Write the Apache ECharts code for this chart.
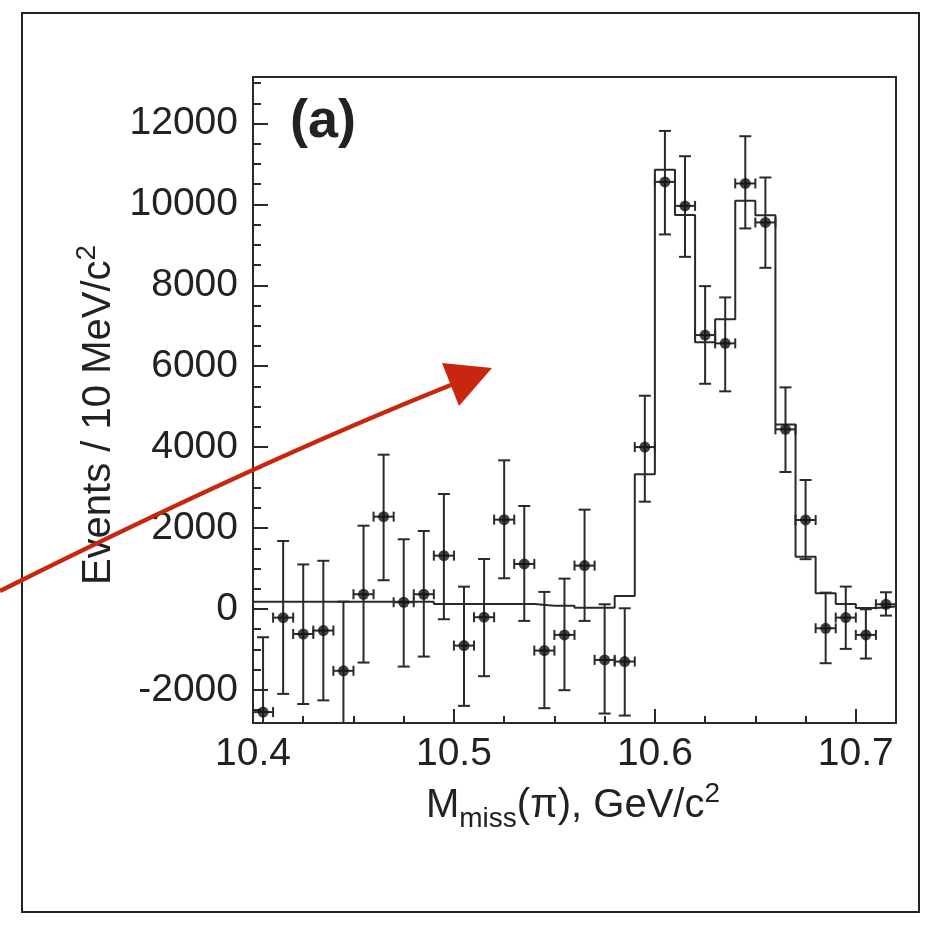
<!DOCTYPE html>
<html><head><meta charset="utf-8">
<script src="https://cdn.jsdelivr.net/npm/echarts@6/dist/echarts.min.js"></script>
<style>html,body{margin:0;padding:0;background:#fff;} #chart{width:940px;height:925px;}</style>
</head><body><div id="chart"></div>
<script>
// ---- data ----
const binCenters = [10.405,10.415,10.425,10.435,10.445,10.455,10.465,10.475,10.485,10.495,
  10.505,10.515,10.525,10.535,10.545,10.555,10.565,10.575,10.585,10.595,
  10.605,10.615,10.625,10.635,10.645,10.655,10.665,10.675,10.685,10.695,10.705,10.715];
const counts = [-2550,-215,-620,-535,-1530,363,2281,165,363,1317,
  -906,-205,2207,1112,-1030,-642,1071,-1260,-1301,4002,
  10557,9964,6770,6565,10518,9554,4440,2199,-478,-214,-642,115];
const errUpper = [-700,1680,1100,1190,180,2058,3813,1722,1927,2841,
  551,1235,3674,2545,420,749,2454,115,16,5271,
  11817,11192,7980,7701,11686,10666,5477,3187,403,552,-8,412];
const errLower = [-4400,-2100,-2350,-2260,-3240,-1326,709,-1425,-1178,-255,
  -2396,-1663,758,-296,-2454,-2009,-296,-2586,-2636,2651,
  9258,8704,5566,5379,9406,8433,3385,1230,-1342,-988,-1227,-165];
const binWidth = 0.01;
const fitEdges = [10.40,10.41,10.42,10.43,10.44,10.45,10.46,10.47,10.48,10.49,
  10.50,10.51,10.52,10.53,10.54,10.55,10.56,10.57,10.58,10.59,
  10.60,10.61,10.62,10.63,10.64,10.65,10.66,10.67,10.68,10.69,10.70,10.71,10.72];
const fitValues = [180,180,180,180,180,180,180,180,180,120,
  120,120,120,120,80,80,30,30,320,3330,
  10860,9740,6590,7160,10090,9730,4560,1290,390,120,20,60];
const xMajorTicks = [10.4,10.5,10.6,10.7];
const xMinorTicks = [10.425,10.45,10.475,10.525,10.55,10.575,10.625,10.65,10.675];
const yMajorTicks = [-2000,0,2000,4000,6000,8000,10000,12000];
const yMinorTicks = [-2500,-1500,-1000,-500,500,1000,1500,2500,3000,3500,4500,5000,5500,
  6500,7000,7500,8500,9000,9500,10500,11000,11500,12500,13000];
const xRange = [10.40, 10.72];
const yRange = [-2820, 13150];
const xTitle = ['M','miss','(π), GeV/c','2'];
const yTitle = ['Events / 10 MeV/c','2'];
const panelLabel = '(a)';

// ---- chart ----
const chart = echarts.init(document.getElementById('chart'), null, {renderer:'canvas'});
const ink = '#2a2a2a';
const fontFam = '"Liberation Sans", Arial, Helvetica, sans-serif';
const halfBin = binWidth/2;

const errData = binCenters.map((x,i)=>[x, counts[i], errLower[i], errUpper[i]]);
const pointData = binCenters.map((x,i)=>[x, counts[i]]);
const fitData = fitEdges.map((x,i)=>[x, fitValues[Math.min(i, fitValues.length-1)]]);

function renderErr(params, api){
  const x = api.value(0), y = api.value(1), lo = api.value(2), hi = api.value(3);
  const c = api.coord([x,y]);
  const top = api.coord([x,hi]);
  const bot = api.coord([x,lo]);
  const l = api.coord([x-halfBin,y]);
  const r = api.coord([x+halfBin,y]);
  const cap = 6, wt = 5;
  const st = {stroke: ink, lineWidth: 2, fill: null};
  return {type:'group', children:[
    {type:'line', shape:{x1:c[0],y1:top[1],x2:c[0],y2:bot[1]}, style:st},
    {type:'line', shape:{x1:c[0]-cap,y1:top[1],x2:c[0]+cap,y2:top[1]}, style:st},
    {type:'line', shape:{x1:c[0]-cap,y1:bot[1],x2:c[0]+cap,y2:bot[1]}, style:st},
    {type:'line', shape:{x1:l[0],y1:c[1],x2:r[0],y2:c[1]}, style:st},
    {type:'line', shape:{x1:l[0],y1:c[1]-wt,x2:l[0],y2:c[1]+wt}, style:st},
    {type:'line', shape:{x1:r[0],y1:c[1]-wt,x2:r[0],y2:c[1]+wt}, style:st}
  ]};
}

const axisLineStyle = {color: ink, width: 2};
const option = {
  backgroundColor: '#ffffff',
  animation: false,
  grid: {left: 253, top: 77, right: 44, bottom: 202, show: true, borderColor: ink, borderWidth: 2, backgroundColor: 'transparent'},
  xAxis: [
    {type:'value', min:xRange[0], max:xRange[1], position:'bottom',
     axisLine:{show:true, onZero:false, lineStyle:axisLineStyle},
     axisTick:{show:true, inside:true, length:14, lineStyle:{color:ink,width:2}, customValues:xMajorTicks},
     axisLabel:{show:true, customValues:xMajorTicks, margin:12, color:'#222', fontSize:39, fontFamily:fontFam,
       formatter:(v)=>Number(v).toFixed(1)},
     splitLine:{show:false}},
    {type:'value', min:xRange[0], max:xRange[1], position:'bottom',
     axisLine:{show:false, onZero:false},
     axisTick:{show:true, inside:true, length:7, lineStyle:{color:ink,width:2}, customValues:xMinorTicks},
     axisLabel:{show:false}, splitLine:{show:false}}
  ],
  yAxis: [
    {type:'value', min:yRange[0], max:yRange[1], position:'left',
     axisLine:{show:true, onZero:false, lineStyle:axisLineStyle},
     axisTick:{show:true, inside:true, length:15, lineStyle:{color:ink,width:2}, customValues:yMajorTicks},
     axisLabel:{show:true, customValues:yMajorTicks, margin:15, color:'#222', fontSize:39, fontFamily:fontFam,
       formatter:(v)=>String(v)},
     splitLine:{show:false}},
    {type:'value', min:yRange[0], max:yRange[1], position:'left',
     axisLine:{show:false, onZero:false},
     axisTick:{show:true, inside:true, length:8, lineStyle:{color:ink,width:2}, customValues:yMinorTicks},
     axisLabel:{show:false}, splitLine:{show:false}}
  ],
  series: [
    {type:'line', name:'fit', data:fitData, step:'end', showSymbol:false, symbol:'none',
     lineStyle:{color:ink, width:2}, xAxisIndex:0, yAxisIndex:0, clip:true, z:2},
    {type:'custom', name:'errors', data:errData, renderItem:renderErr, encode:{x:0,y:1},
     xAxisIndex:0, yAxisIndex:0, clip:true, z:3},
    {type:'scatter', name:'data', data:pointData, symbol:'circle', symbolSize:11,
     itemStyle:{color:'#111'}, xAxisIndex:0, yAxisIndex:0, z:4}
  ],
  graphic: [
    {type:'rect', shape:{x:22, y:13, width:897, height:899}, style:{fill:null, stroke:'#222', lineWidth:2}, z:0, silent:true},
    {type:'text', x:323, y:122, style:{text:panelLabel, font:'bold 54px ' + fontFam, fill:'#222', align:'center', verticalAlign:'middle'}, z:10},
    {type:'text', x:573, y:806, style:{
      text:'{m|' + xTitle[0] + '}{sub|' + xTitle[1] + '}{m|' + xTitle[2] + '}{sup|' + xTitle[3] + '}',
      align:'center', verticalAlign:'middle', fill:'#222',
      rich:{
        m:{fontSize:40, fontFamily:fontFam, fill:'#222'},
        sub:{fontSize:28, fontFamily:fontFam, fill:'#222', padding:[26,0,0,0]},
        sup:{fontSize:28, fontFamily:fontFam, fill:'#222', padding:[0,0,24,0]}
      }}, z:10},
    {type:'text', x:99, y:415, rotation:Math.PI/2, style:{
      text:'{m|' + yTitle[0] + '}{sup|' + yTitle[1] + '}',
      align:'center', verticalAlign:'middle', fill:'#222',
      rich:{
        m:{fontSize:40, fontFamily:fontFam, fill:'#222'},
        sup:{fontSize:28, fontFamily:fontFam, fill:'#222', padding:[0,0,24,0]}
      }}, z:10},
    {type:'bezierCurve', shape:{x1:0, y1:591, cpx1:256, cpy1:463, x2:451, y2:385},
      style:{stroke:'#c8260e', lineWidth:4.5, fill:null}, z:20},
    {type:'polygon', shape:{points:[[492,368],[442,363],[459,406]]}, style:{fill:'#c8260e'}, z:20}
  ]
};
chart.setOption(option);
</script>
</body></html>
